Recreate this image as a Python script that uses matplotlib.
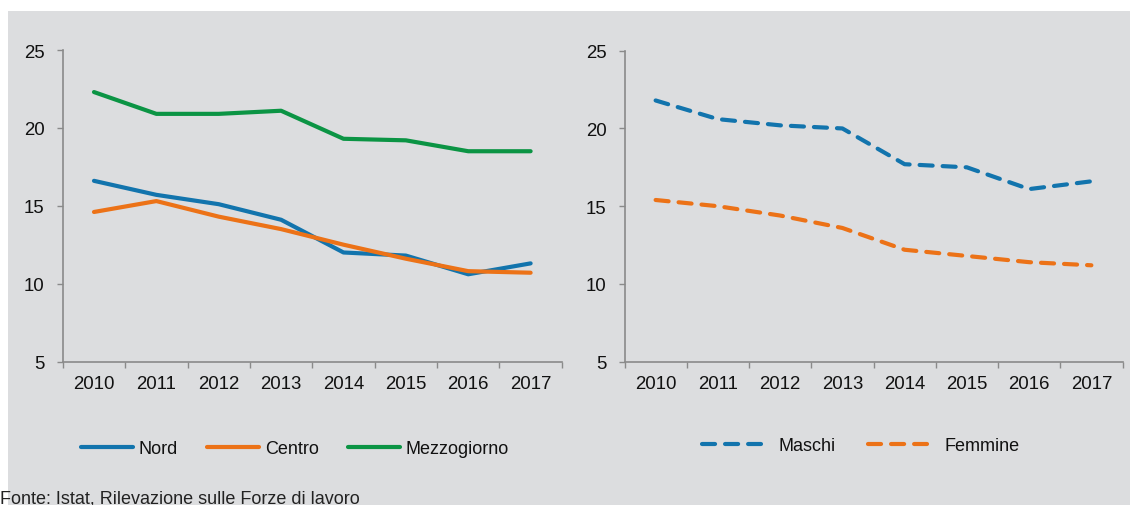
import matplotlib
matplotlib.use("Agg")
import matplotlib.pyplot as plt
from matplotlib.patches import Rectangle

plt.rcParams['font.family'] = ['Liberation Sans', 'DejaVu Sans']
plt.rcParams['lines.scale_dashes'] = False

years = ['2010', '2011', '2012', '2013', '2014', '2015', '2016', '2017']
nord = [16.6, 15.7, 15.1, 14.1, 12.0, 11.8, 10.6, 11.3]
centro = [14.6, 15.3, 14.3, 13.5, 12.5, 11.6, 10.8, 10.7]
mezzogiorno = [22.3, 20.9, 20.9, 21.1, 19.3, 19.2, 18.5, 18.5]
maschi = [21.8, 20.6, 20.2, 20.0, 17.7, 17.5, 16.1, 16.6]
femmine = [15.4, 15.0, 14.4, 13.6, 12.2, 11.8, 11.4, 11.2]
yticks = [5, 10, 15, 20, 25]
source = "Fonte: Istat, Rilevazione sulle Forze di lavoro"

BLUE = '#1274ad'
ORANGE = '#ec7217'
GREEN = '#0b9444'
BG = '#dcdddf'
SPINE = '#8a8a8a'
TXT = '#111111'

W, H = 1130, 506
fig = plt.figure(figsize=(W / 100, H / 100), dpi=100)
fig.patch.set_facecolor('white')
fig.patches.append(Rectangle((8 / W, 0), 1 - 8 / W, (H - 12) / H,
                             transform=fig.transFigure, facecolor=BG,
                             edgecolor='none', zorder=-10))

ax1 = fig.add_axes([62.8 / W, 1 - 362.5 / H, 499 / W, 311.5 / H])
ax2 = fig.add_axes([624.5 / W, 1 - 362.7 / H, 498 / W, 311 / H])

x = list(range(len(years)))
lw = 3.0
ax1.plot(x, nord, color=BLUE, lw=lw, solid_capstyle='round', solid_joinstyle='round', label='Nord')
ax1.plot(x, centro, color=ORANGE, lw=lw, solid_capstyle='round', solid_joinstyle='round', label='Centro')
ax1.plot(x, mezzogiorno, color=GREEN, lw=lw, solid_capstyle='round', solid_joinstyle='round', label='Mezzogiorno')

dash = (0, (9.4, 7.2))
ax2.plot(x, maschi, color=BLUE, lw=lw, linestyle=dash, dash_capstyle='round', label='Maschi')
ax2.plot(x, femmine, color=ORANGE, lw=lw, linestyle=dash, dash_capstyle='round', label='Femmine')

for ax in (ax1, ax2):
    ax.set_facecolor('none')
    ax.set_xlim(-0.5, len(years) - 0.5)
    ax.set_ylim(5, 25)
    ax.set_yticks(yticks)
    ax.set_xticks([i - 0.5 for i in range(len(years) + 1)])
    ax.set_xticklabels([])
    ax.set_xticks(x, minor=True)
    ax.set_xticklabels(years, minor=True)
    ax.tick_params(axis='x', which='major', direction='out', length=4, width=1, color=SPINE)
    ax.tick_params(axis='x', which='minor', length=0, pad=9.5, labelsize=13.4, labelcolor=TXT)
    ax.tick_params(axis='y', direction='out', length=4, width=1, color=SPINE, pad=9,
                   labelsize=13.4, labelcolor=TXT)
    for s in ('top', 'right'):
        ax.spines[s].set_visible(False)
    for s in ('left', 'bottom'):
        ax.spines[s].set_color(SPINE)
        ax.spines[s].set_linewidth(1.2)

leg1 = ax1.legend(loc='center left', bbox_to_anchor=(80.5 / W, 1 - 449.5 / H),
                  bbox_transform=fig.transFigure, ncol=3, frameon=False,
                  fontsize=13, handlelength=2.9, handletextpad=0.32,
                  columnspacing=1.6, borderpad=0, borderaxespad=0)
for t in leg1.get_texts():
    t.set_color(TXT)

leg2 = ax2.legend(loc='center left', bbox_to_anchor=(702.4 / W, 1 - 446.5 / H),
                  bbox_transform=fig.transFigure, ncol=2, frameon=False,
                  fontsize=13, handlelength=3.27, handletextpad=0.93,
                  columnspacing=1.83, borderpad=0, borderaxespad=0)
for t in leg2.get_texts():
    t.set_color(TXT)

fig.text(0, 1 - 504 / H, source, fontsize=13, color='#222222', va='baseline', ha='left')

fig.savefig('out.png', dpi=100, facecolor=fig.get_facecolor())
